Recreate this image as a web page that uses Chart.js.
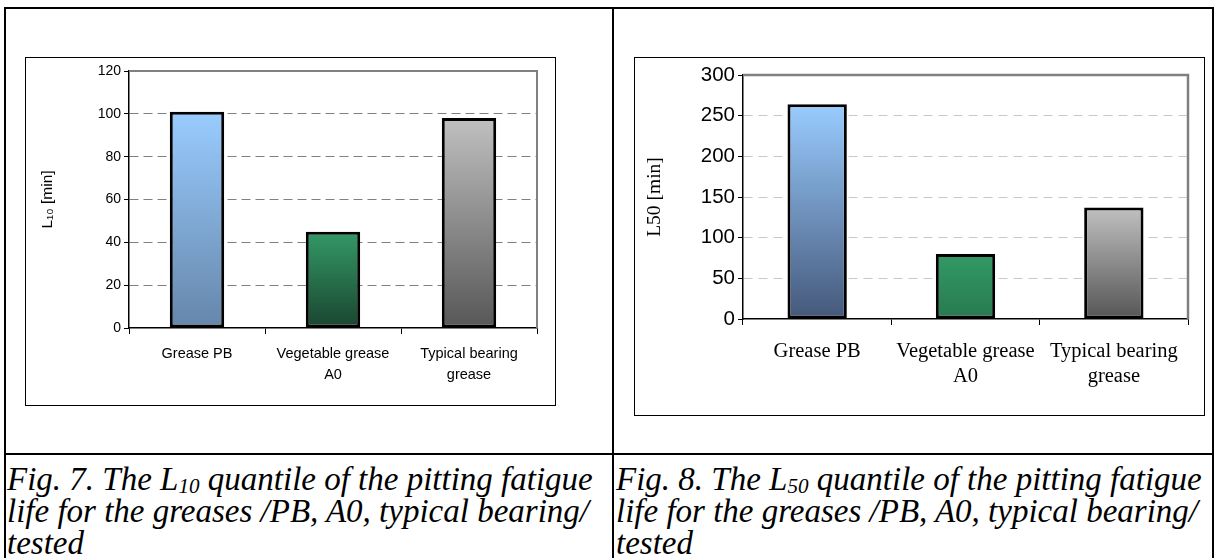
<!DOCTYPE html>
<html>
<head>
<meta charset="utf-8">
<script src="https://cdn.jsdelivr.net/npm/chart.js@4.4.1/dist/chart.umd.min.js"></script>
<style>
  html, body { margin: 0; padding: 0; background: #fff; }
  body { width: 1216px; height: 558px; position: relative; overflow: hidden; }
  .rule { position: absolute; background: #000; }
  .box { position: absolute; border: 1px solid #000; box-sizing: border-box; background: #fff; }
  .box canvas { position: absolute; left: 0; top: 0; }
  .caption {
    position: absolute; font-family: "Liberation Serif", "Times New Roman", serif;
    font-style: italic; font-size: 33px; line-height: 32px; color: #000; white-space: nowrap;
  }
  .caption sub { font-size: 0.64em; line-height: 0; vertical-align: -0.16em; }
</style>
</head>
<body>
<!-- table frame -->
<div class="rule" style="left:4px; top:7px; width:1210px; height:2px;"></div>
<div class="rule" style="left:4px; top:7px; width:2px; height:551px;"></div>
<div class="rule" style="left:612px; top:7px; width:2px; height:551px;"></div>
<div class="rule" style="left:1212px; top:7px; width:2px; height:551px;"></div>
<div class="rule" style="left:4px; top:453px; width:1210px; height:2px;"></div>

<div class="box" style="left:25px; top:57px; width:531px; height:349px;"><canvas id="chartL10" width="529" height="347"></canvas></div>
<div class="box" style="left:634px; top:57px; width:571px; height:359px;"><canvas id="chartL50" width="569" height="357"></canvas></div>

<div class="caption" style="left:7px; top:463px;">Fig. 7. The L<sub>10</sub> quantile of the pitting fatigue<br>life for the greases /PB, A0, typical bearing/<br>tested</div>
<div class="caption" style="left:616px; top:463px;">Fig. 8. The L<sub>50</sub> quantile of the pitting fatigue<br>life for the greases /PB, A0, typical bearing/<br>tested</div>

<script>
// grease types on the x axis (multi-line labels)
const categories = [['Grease PB'], ['Vegetable grease', 'A0'], ['Typical bearing', 'grease']];
// L10 and L50 fatigue life, minutes
const l10Values = [101, 45, 98];
const l50Values = [264, 80, 137];
// value-axis ranges
const l10Axis = { max: 120, step: 20 };
const l50Axis = { max: 300, step: 50 };

// vertical gradient stops (top, bottom) for each bar
const l10Fills = [['#99ccff', '#6686aa'], ['#339966', '#1a4530'], ['#c0c0c0', '#575757']];
const l50Fills = [['#99ccff', '#45587a'], ['#339966', '#287a4f'], ['#c0c0c0', '#555555']];

function gradientFill(fills) {
  return (ctx) => {
    const stops = fills[ctx.dataIndex] || fills[0];
    const chart = ctx.chart;
    if (!chart.chartArea || ctx.type !== 'data') return stops[0];
    const y = chart.scales.y;
    const top = y.getPixelForValue(ctx.raw);
    const base = y.getPixelForValue(0);
    const g = chart.ctx.createLinearGradient(0, top, 0, base);
    g.addColorStop(0, stops[0]);
    g.addColorStop(1, stops[1]);
    return g;
  };
}

// grey top and right edge of the plot area
const plotFrame = {
  id: 'plotFrame',
  beforeDatasetsDraw(chart, args, opts) {
    const { ctx, chartArea: a } = chart;
    ctx.save();
    ctx.strokeStyle = opts.color;
    ctx.lineWidth = opts.width;
    ctx.beginPath();
    ctx.moveTo(a.left, a.top);
    ctx.lineTo(a.right, a.top);
    ctx.lineTo(a.right, a.bottom);
    ctx.stroke();
    ctx.restore();
  }
};

function makeChart(id, values, fills, axis, cfg) {
  return new Chart(document.getElementById(id), {
    type: 'bar',
    data: {
      labels: categories,
      datasets: [{
        data: values,
        backgroundColor: gradientFill(fills),
        borderColor: '#000',
        borderWidth: 3,
        borderSkipped: false,
        categoryPercentage: 1,
        barPercentage: 0.4
      }]
    },
    options: {
      responsive: false,
      animation: false,
      events: [],
      layout: { padding: cfg.padding },
      plugins: {
        legend: { display: false },
        tooltip: { enabled: false },
        plotFrame: { color: '#808080', width: cfg.frameWidth }
      },
      scales: {
        x: {
          offset: true,
          grid: { offset: true, drawOnChartArea: false, color: '#000', tickLength: 6, lineWidth: 1 },
          border: { color: '#000', width: cfg.axisWidth },
          ticks: {
            color: '#000', padding: cfg.xPad, maxRotation: 0, autoSkip: false,
            font: { family: cfg.catFamily, size: cfg.catSize, lineHeight: cfg.catLine }
          },
          afterFit: (s) => { s.height = cfg.xHeight; }
        },
        y: {
          min: 0, max: axis.max,
          grid: {
            color: (c) => (c.tick && (c.tick.value === 0 || c.tick.value === axis.max)) ? 'rgba(0,0,0,0)' : cfg.gridColor,
            tickColor: '#000', tickLength: 5, lineWidth: 1
          },
          border: { color: '#000', width: cfg.axisWidth, dash: cfg.gridDash },
          ticks: {
            stepSize: axis.step, color: '#000', padding: 3,
            font: { family: 'Liberation Sans, Arial, sans-serif', size: cfg.tickSize }
          },
          title: {
            display: true, text: cfg.title, color: '#000',
            padding: { top: cfg.titlePad, bottom: 0 },
            font: { family: cfg.titleFamily, size: cfg.titleSize, lineHeight: 1.2 }
          },
          afterFit: (s) => { s.width = cfg.yWidth; }
        }
      }
    },
    plugins: [plotFrame]
  });
}

makeChart('chartL10', l10Values, l10Fills, l10Axis, {
  padding: { top: 13, right: 18, bottom: 0, left: 0 },
  yWidth: 103, xHeight: 77,
  frameWidth: 2, axisWidth: 1.5,
  gridColor: '#808080', gridDash: [9, 5],
  tickSize: 14,
  catFamily: 'Liberation Sans, Arial, sans-serif', catSize: 14.5, catLine: '21px', xPad: 9,
  title: 'L\u2081\u2080 [min]', titleFamily: 'Liberation Sans, Arial, sans-serif', titleSize: 15.5, titlePad: 12
});

makeChart('chartL50', l50Values, l50Fills, l50Axis, {
  padding: { top: 17, right: 16, bottom: 0, left: 0 },
  yWidth: 108, xHeight: 96,
  frameWidth: 2.5, axisWidth: 1.5,
  gridColor: '#c8c8c8', gridDash: [9, 6],
  tickSize: 20.5,
  catFamily: 'Liberation Serif, Times New Roman, serif', catSize: 20.5, catLine: '25px', xPad: 14,
  title: 'L50 [min]', titleFamily: 'Liberation Serif, Times New Roman, serif', titleSize: 19.5, titlePad: 8.3
});
</script>
</body>
</html>
